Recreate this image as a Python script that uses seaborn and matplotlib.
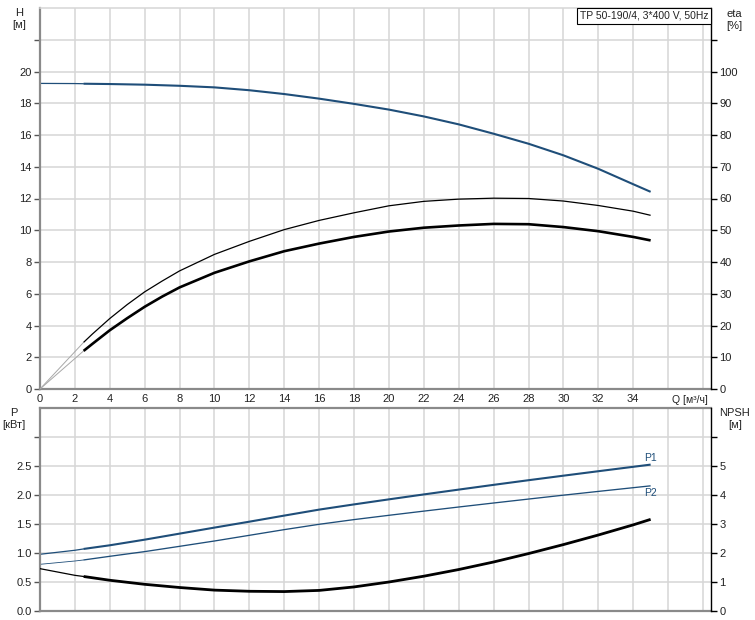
import matplotlib
matplotlib.use("Agg")
import matplotlib.pyplot as plt
import seaborn as sns
import pandas as pd

# ---------------- data ----------------
Q = [0, 2, 2.5, 4, 6, 8, 10, 12, 14, 16, 18, 20, 22, 24, 26, 28, 30, 32, 34, 35]
H = [19.25, 19.24, 19.23, 19.21, 19.17, 19.1, 19.0, 18.82, 18.58, 18.29, 17.96,
     17.6, 17.17, 16.67, 16.08, 15.45, 14.72, 13.87, 12.9, 12.42]
P1 = [0.978, 1.047, 1.07, 1.133, 1.23, 1.334, 1.438, 1.54, 1.645, 1.748, 1.838,
      1.925, 2.01, 2.093, 2.175, 2.255, 2.333, 2.41, 2.486, 2.524]
P2 = [0.805, 0.862, 0.88, 0.943, 1.024, 1.115, 1.207, 1.305, 1.403, 1.495, 1.576,
      1.65, 1.722, 1.793, 1.862, 1.93, 1.997, 2.062, 2.126, 2.158]
NPSH = [1.46, 1.23, 1.19, 1.06, 0.92, 0.81, 0.72, 0.68, 0.67, 0.71, 0.83,
        1.0, 1.2, 1.43, 1.69, 1.98, 2.29, 2.62, 2.97, 3.16]

Q_ETA = [0, 2.5, 3, 4, 5, 6, 7, 8, 10, 12, 14, 16, 18, 20, 22, 24, 26, 28, 30,
         32, 34, 35]
ETA_PUMP = [0, 14.7, 17.3, 22.2, 26.6, 30.6, 34.0, 37.2, 42.4, 46.5, 50.2, 53.1,
            55.5, 57.7, 59.1, 59.8, 60.1, 60.0, 59.2, 57.8, 56.0, 54.7]
ETA_TOTAL = [0, 12.0, 14.2, 18.5, 22.3, 25.9, 29.1, 32.0, 36.6, 40.2, 43.4, 45.8,
             47.9, 49.6, 50.8, 51.5, 52.0, 51.9, 51.0, 49.7, 47.9, 46.8]

Q_MIN = 2.5  # start of the operating (bold) range

X_TICKS = list(range(0, 39, 2))
X_LABELS = [str(v) if v <= 34 else "" for v in X_TICKS]
H_TICKS = list(range(0, 23, 2))
H_LABELS = [str(v) if v <= 20 else "" for v in H_TICKS]
ETA_TICKS = list(range(0, 111, 10))
ETA_LABELS = [str(v) if v <= 100 else "" for v in ETA_TICKS]
P_TICKS = [0.0, 0.5, 1.0, 1.5, 2.0, 2.5, 3.0]
P_LABELS = [f"{v:.1f}" if v <= 2.5 else "" for v in P_TICKS]
NPSH_TICKS = [0, 1, 2, 3, 4, 5, 6]
NPSH_LABELS = [str(v) if v <= 5 else "" for v in NPSH_TICKS]

TITLE = "TP 50-190/4, 3*400 V, 50Hz"

# ---------------- style ----------------
sns.set_theme(style="white")
plt.rcParams["font.family"] = ["Liberation Sans", "DejaVu Sans"]
BLUE = "#1f4e79"
GRID = "#d6d6d6"
SPINE = "#8a8a8a"
TXT = "#222222"
FS = 7.5
TFS = 8.0

df = pd.DataFrame({"Q": Q, "H": H, "P1": P1, "P2": P2, "NPSH": NPSH})
de = pd.DataFrame({"Q": Q_ETA, "pump": ETA_PUMP, "total": ETA_TOTAL})

W, Hpx = 755, 620
fig = plt.figure(figsize=(W / 100, Hpx / 100), dpi=100)
ax1 = fig.add_axes([40 / W, 1 - 389 / Hpx, 671 / W, 381 / Hpx])
ax2 = fig.add_axes([40 / W, 1 - 611 / Hpx, 671 / W, 203 / Hpx])
ax1r = ax1.twinx()
ax2r = ax2.twinx()

XMAX = 38.46


def draw(ax, frame, col, color, lw_thin, lw_thick, thin_color=None):
    thin = frame[frame["Q"] <= Q_MIN]
    thick = frame[frame["Q"] >= Q_MIN]
    sns.lineplot(data=thin, x="Q", y=col, ax=ax, color=thin_color or color,
                 lw=lw_thin, sort=False, estimator=None)
    sns.lineplot(data=thick, x="Q", y=col, ax=ax, color=color,
                 lw=lw_thick, sort=False, estimator=None,
                 solid_joinstyle="round", solid_capstyle="butt")


# top chart
draw(ax1, df, "H", BLUE, 0.9, 1.5)
draw(ax1r, de, "pump", "black", 0.7, 0.9, thin_color="#a8a8a8")
draw(ax1r, de, "total", "black", 0.7, 1.9, thin_color="#a8a8a8")

# bottom chart
draw(ax2, df, "P1", BLUE, 0.9, 1.5)
draw(ax2, df, "P2", BLUE, 0.6, 0.95)
draw(ax2r, df, "NPSH", "black", 0.9, 2.0)

ax2.annotate("P1", xy=(Q[-1], 2.63), ha="center", va="center",
             fontsize=FS, color=BLUE)
ax2.annotate("P2", xy=(Q[-1], 2.03), ha="center", va="center",
             fontsize=FS, color=BLUE)

# axes formatting
for ax, ymax in ((ax1, 24), (ax2, 3.5)):
    ax.set_xlim(0, XMAX)
    ax.set_ylim(0, ymax)
    ax.set_xticks(X_TICKS)
    ax.grid(True, color=GRID, lw=1.1)
    ax.set_axisbelow(True)
    ax.set_xlabel("")
    ax.set_ylabel("")
    ax.spines["right"].set_visible(False)
    ax.spines["left"].set_color(SPINE)
    ax.spines["left"].set_linewidth(1.6)
    ax.spines["bottom"].set_color(SPINE)
    ax.spines["bottom"].set_linewidth(1.6)

ax1.spines["top"].set_color(GRID)
ax1.spines["top"].set_linewidth(1.1)
ax2.spines["top"].set_color(SPINE)
ax2.spines["top"].set_linewidth(1.6)

ax1.set_xticklabels(X_LABELS)
ax1.tick_params(axis="x", length=0, pad=3.5, labelsize=TFS, labelcolor=TXT)
ax2.tick_params(axis="x", length=0, labelbottom=False)

ax1.set_yticks(H_TICKS)
ax1.set_yticklabels(H_LABELS)
ax2.set_yticks(P_TICKS)
ax2.set_yticklabels(P_LABELS)
for ax in (ax1, ax2):
    ax.tick_params(axis="y", left=True, length=4, width=1, color="#555555",
                   pad=2, labelsize=TFS, labelcolor=TXT)

ax1r.set_ylim(0, 120)
ax1r.set_yticks(ETA_TICKS)
ax1r.set_yticklabels(ETA_LABELS)
ax2r.set_ylim(0, 7)
ax2r.set_yticks(NPSH_TICKS)
ax2r.set_yticklabels(NPSH_LABELS)
for ax in (ax1r, ax2r):
    ax.set_xlim(0, XMAX)
    ax.set_ylabel("")
    ax.grid(False)
    for s in ("left", "top", "bottom"):
        ax.spines[s].set_visible(False)
    ax.spines["right"].set_color("black")
    ax.spines["right"].set_linewidth(1.0)
    ax.tick_params(axis="y", right=True, length=4, width=1, color="black",
                   pad=2, labelsize=TFS, labelcolor=TXT)


def ft(x, y, s, ha="center"):
    fig.text(x / W, 1 - y / Hpx, s, ha=ha, va="center", fontsize=FS + 0.5,
             color=TXT)


ft(19, 13, "H")
ft(19, 25.5, "[м]")
ft(734, 14, "eta")
ft(734, 26, "[%]")
ft(14, 412.5, "P")
ft(14, 425, "[кВт]")
ft(735, 413, "NPSH")
ft(735, 425.5, "[м]")
fig.text(690 / W, 1 - 400 / Hpx, "Q [м³/ч]", ha="center", va="center",
         fontsize=FS, color=TXT)

fig.text(708 / W, 1 - 16 / Hpx, TITLE, ha="right", va="center", fontsize=FS,
         color=TXT, bbox=dict(boxstyle="square,pad=0.28", fc="white",
                              ec="black", lw=0.8))

fig.savefig("out.png", dpi=100)
